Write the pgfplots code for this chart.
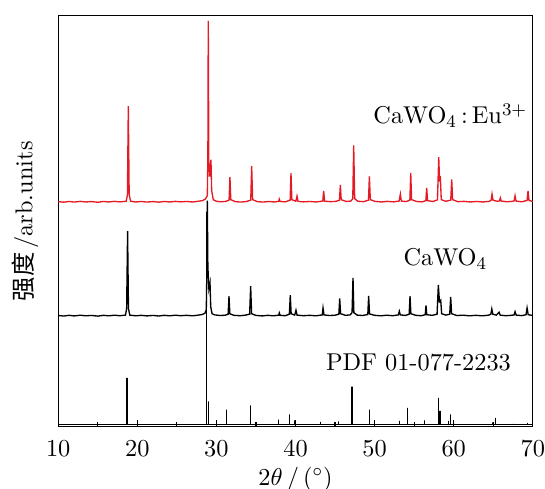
\documentclass[border=0pt]{standalone}
\usepackage{pgfplots}
\pgfplotsset{compat=1.18}
\usepackage{fontspec}
\newfontfamily\cjk{Noto Sans CJK SC}
\definecolor{xrdred}{RGB}{228,26,36}
\begin{document}
\fontsize{10.95pt}{13.6pt}\selectfont
\begin{tikzpicture}
\begin{axis}[
  scale only axis, width=213.5pt, height=184.9pt,
  xmin=10, xmax=70, ymin=0, ymax=410.8,
  xtick={10,20,...,70}, minor x tick num=1,
  xtick pos=bottom, tick align=inside,
  major tick length=3pt, minor tick length=2pt,
  ytick=\empty,
  axis line style={line width=0.6pt},
  every tick/.style={black, line width=0.5pt},
  xticklabel style={yshift=-2.5pt},
  xlabel={$2\theta\,/\,(^{\circ})$},
  ylabel={{\cjk 强度}\,/arb.units},
  every axis x label/.style={at={(axis description cs:0.5,-0.127)}, anchor=center},
  every axis y label/.style={at={(axis description cs:-0.07,0.5)}, rotate=90, anchor=center},
  clip=true,
]
% PDF stick pattern
\addplot[black, line width=0.6pt, sharp plot] coordinates {
(10,2)(18.69,2)(18.69,48.8)(18.69,2)(20.04,2)(20.04,4)(20.04,2)
(28.77,2)(28.77,215)(28.77,2)(28.97,2)(28.97,25.5)(28.97,2)
(30.03,2)(30.03,4)(30.03,2)(31.3,2)(31.3,17.2)(31.3,2)
(34.29,2)(34.29,21.5)(34.29,2)(37.83,2)(37.83,7.2)(37.83,2)
(39.26,2)(39.26,12.5)(39.26,2)(39.85,2)(39.85,6.5)(39.85,2)
(43.18,2)(43.18,4.8)(43.18,2)(45.46,2)(45.46,5.5)(45.46,2)
(47.14,2)(47.14,40.2)(47.14,2)(49.33,2)(49.33,17.2)(49.33,2)
(50.0,2)(50.0,3.5)(50.0,2)(53.13,2)(53.13,6)(53.13,2)
(54.14,2)(54.14,18.8)(54.14,2)(56.29,2)(56.29,6.5)(56.29,2)
(58.06,2)(58.06,28.8)(58.06,2)(58.27,2)(58.27,16)(58.27,2)
(59.32,2)(59.32,6)(59.32,2)(59.58,2)(59.58,12.5)(59.58,2)
(60.05,2)(60.05,3)(60.05,2)(64.94,2)(64.94,4.5)(64.94,2)
(65.32,2)(65.32,9)(65.32,2)(67.6,2)(67.6,3)(67.6,2)
(69.37,2)(69.37,4)(69.37,2)(70,2)
};
% CaWO4
\addplot[black, line width=0.6pt, sharp plot] coordinates {
(10,111.2)(10.7,110.7)(11.4,111.4)(12,110.8)(12.8,111.5)(13.5,110.9)(14.2,111.3)(15,110.6)
(15.7,111.4)(16.4,110.9)(17.1,111.5)(17.8,111.0)(18.5,111.6)(18.65,118)(18.77,195.5)(18.88,118)
(19.05,111.6)(19.8,110.9)(20.5,111.4)(21.2,110.8)(22,111.3)(22.7,110.7)(23.4,111.4)(24.1,110.9)
(24.8,111.5)(25.5,111.0)(26.2,111.4)(27,110.9)(27.7,111.6)(28.2,112.2)(28.55,113.5)(28.72,117)
(28.8,160)(28.85,226)(28.92,160)(29.05,138)(29.19,143.8)(29.28,120)(29.45,113)(29.8,111.8)
(30.5,111.2)(31.1,111.5)(31.48,112.5)(31.59,130.5)(31.7,113)(32.2,111.4)(33,111.0)(33.6,111.5)
(34.2,112.5)(34.33,140.5)(34.45,113)(35,111.3)(35.8,110.8)(36.5,111.4)(37.2,110.9)(37.88,111.5)
(37.95,113.8)(38.05,111.4)(38.7,111.0)(39.22,112.5)(39.34,131.5)(39.45,113)(39.9,111.6)(40.06,116.5)
(40.2,111.6)(41,111.0)(41.8,111.4)(42.6,110.9)(43.38,111.8)(43.48,118.8)(43.6,111.8)(44.3,111.2)
(45.0,111.5)(45.48,112.5)(45.59,128.2)(45.7,113)(46.3,111.4)(46.9,111.8)(47.15,114)(47.27,148.8)
(47.38,114)(47.8,111.6)(48.5,111.2)(49.14,112.2)(49.25,130.8)(49.36,112.8)(50,111.4)(50.8,110.9)
(51.5,111.5)(52.3,111.0)(53.0,111.8)(53.13,115.5)(53.25,111.8)(53.9,111.3)(54.37,112.5)(54.48,130.5)
(54.59,113)(55.2,111.4)(55.9,111.0)(56.4,112)(56.5,121.2)(56.6,112)(57.3,111.4)(57.9,112.5)
(58.06,141.8)(58.2,125)(58.36,126.5)(58.48,113)(59.0,111.6)(59.5,112.5)(59.62,129.8)(59.74,113)
(60.4,111.2)(61.2,111.5)(62,110.9)(62.8,111.4)(63.6,110.9)(64.4,111.5)(64.7,112.5)(64.82,117.8)
(64.95,112.5)(65.4,111.6)(65.74,114.5)(65.88,111.6)(66.6,111.0)(67.3,111.4)(67.65,111.8)(67.76,115)
(67.9,111.6)(68.6,111.1)(69.15,112)(69.28,118.8)(69.42,112)(70,111.3)
};
% CaWO4:Eu3+
\addplot[xrdred, line width=0.6pt, sharp plot] coordinates {
(10,225.0)(10.7,224.5)(11.4,225.2)(12,224.6)(12.8,225.3)(13.5,224.7)(14.2,225.1)(15,224.4)
(15.7,225.2)(16.4,224.7)(17.1,225.3)(17.8,224.8)(18.6,225.4)(18.75,232)(18.86,320.5)(18.97,232)
(19.15,225.4)(19.8,224.7)(20.5,225.2)(21.2,224.6)(22,225.1)(22.7,224.5)(23.4,225.2)(24.1,224.7)
(24.8,225.3)(25.5,224.8)(26.2,225.2)(27,224.7)(27.7,225.4)(28.2,226)(28.6,227.5)(28.85,231)
(28.92,270)(28.97,405.8)(29.04,265)(29.15,250)(29.31,267)(29.4,236)(29.6,227)(30,225.4)
(30.6,224.9)(31.2,225.3)(31.6,226.5)(31.71,249.5)(31.82,227)(32.4,225.0)(33.1,224.6)(33.8,225.2)
(34.34,226.5)(34.46,260.5)(34.58,227)(35.2,225.0)(35.9,224.6)(36.6,225.2)(37.3,224.7)(37.87,225.3)
(37.95,227.5)(38.05,225.2)(38.7,224.8)(39.32,226.5)(39.43,253.5)(39.54,227)(40.05,225.4)(40.19,230.5)
(40.32,225.3)(41,224.8)(41.8,225.2)(42.6,224.7)(43.45,225.6)(43.56,235.8)(43.68,225.5)(44.4,225.0)
(45.1,225.3)(45.56,226.5)(45.67,241.8)(45.78,227)(46.4,225.2)(47.0,225.6)(47.24,228)(47.36,281.2)
(47.48,228)(47.9,225.4)(48.6,225.0)(49.23,226.5)(49.34,250.2)(49.46,227)(50.1,225.2)(50.9,224.7)
(51.6,225.3)(52.4,224.8)(53.1,225.6)(53.26,232.5)(53.38,225.6)(54.0,225.1)(54.46,226.5)(54.57,253.8)
(54.68,227)(55.3,225.2)(56.0,224.8)(56.48,226)(56.59,238.8)(56.7,226)(57.4,225.2)(57.95,226.8)
(58.11,269.5)(58.22,245)(58.31,250.5)(58.43,227)(59.0,225.4)(59.63,226.5)(59.75,247.2)(59.87,227)
(60.5,225.0)(61.3,225.3)(62.1,224.7)(62.9,225.2)(63.7,224.7)(64.5,225.3)(64.74,226.5)(64.85,232.5)
(64.97,226.5)(65.5,225.4)(65.8,225.8)(65.9,228.8)(66.02,225.6)(66.7,224.9)(67.4,225.3)(67.65,225.8)
(67.76,230.8)(67.88,225.6)(68.6,224.9)(69.28,226.2)(69.4,235.8)(69.52,226.2)(70,225.2)
};
\node[anchor=west, inner sep=0pt] at (axis cs:49.8,311) {CaWO$_4$\,:\,Eu$^{3+}$};
\node[anchor=west, inner sep=0pt] at (axis cs:53.6,168) {CaWO$_4$};
\node[anchor=west, inner sep=0pt] at (axis cs:43.8,64.5) {PDF 01-077-2233};
\end{axis}
\pgfresetboundingbox
\path ([xshift=-26.2pt,yshift=-27.7pt]current axis.south west) rectangle ([xshift=5.5pt,yshift=7.1pt]current axis.north east);
\end{tikzpicture}
\end{document}
